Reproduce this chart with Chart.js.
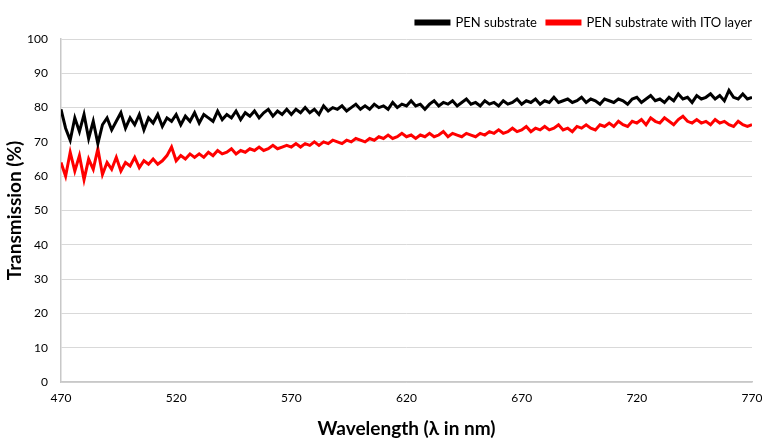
<!DOCTYPE html>
<html>
<head>
<meta charset="utf-8">
<script src="https://cdn.jsdelivr.net/npm/chart.js@4/dist/chart.umd.min.js"></script>
<style>
  html, body { margin: 0; padding: 0; background: #ffffff; }
  #wrap { width: 762px; height: 438px; }
</style>
</head>
<body>
<div id="wrap"><canvas id="c" width="762" height="438"></canvas></div>
<script>
// Wavelength start / step (nm) and tick labels
const wavelengthStart = 470;
const wavelengthStep = 2;
const xTicks = [470, 520, 570, 620, 670, 720, 770];
const yTicks = [0, 10, 20, 30, 40, 50, 60, 70, 80, 90, 100];

// Transmission (%), every 2 nm from 470 to 770 nm
const penSubstrate = [
  79.5, 74, 70.5, 77, 73, 78, 71, 76, 69.5, 75,
  77, 73.5, 76, 78.5, 74, 77, 75, 78, 73.5, 77,
  75.5, 78, 74.5, 77, 76, 78, 75, 77.5, 76, 78.5,
  75.5, 78, 77, 76, 79, 76.5, 78, 77, 79, 76.5,
  78.5, 77.5, 79, 77, 78.5, 79.5, 77.5, 79, 78, 79.5,
  78, 79.5, 78.5, 80, 78.5, 79.5, 78, 80.5, 79, 80,
  79.5, 80.5, 79, 80, 81, 79.5, 80.5, 79.5, 81, 80,
  80.5, 79.5, 81.5, 80, 81, 80.5, 82, 80.5, 81, 79.5,
  81, 82, 80.5, 81.5, 81, 82, 80.5, 81.5, 82.5, 81,
  81.5, 80.5, 82, 81, 81.5, 80.5, 82, 81, 81.5, 82.5,
  81, 82, 81.5, 82.5, 81, 82, 81.5, 83, 81.5, 82,
  82.5, 81.5, 82, 83, 81.5, 82.5, 82, 81, 82.5, 82,
  81.5, 82.5, 82, 81, 82.5, 83, 81.5, 82.5, 83.5, 82,
  82.5, 81.5, 83, 82, 84, 82.5, 83, 81.5, 83.5, 82.5,
  83, 84, 82.5, 83.5, 82, 85, 83, 82.5, 84, 82.5,
  83
];
const penWithITO = [
  64, 60, 67, 61.5, 66, 59, 65, 62, 68, 60.5,
  64, 62, 65.5, 61.5, 64, 63, 65.5, 62.5, 64.5, 63.5,
  65, 63.5, 64.5, 66, 68.5, 64.5, 66, 65, 66.5, 65.5,
  66.5, 65.5, 67, 66, 67.5, 66.5, 67, 68, 66.5, 67.5,
  67, 68, 67.5, 68.5, 67.5, 68, 69, 68, 68.5, 69,
  68.5, 69.5, 68.5, 69.5, 69, 70, 69, 70, 69.5, 70.5,
  70, 69.5, 70.5, 70, 71, 70.5, 70, 71, 70.5, 71.5,
  71, 72, 71, 71.5, 72.5, 71.5, 72, 71, 72, 71.5,
  72.5, 71.5, 72, 73, 71.5, 72.5, 72, 71.5, 72.5, 72,
  71.5, 72.5, 72, 73, 72.5, 73.5, 72.5, 73, 74, 73,
  73.5, 74.5, 73, 74, 73.5, 74.5, 73.5, 74, 75, 73.5,
  74, 73, 74.5, 74, 75, 74, 73.5, 75, 74.5, 75.5,
  74.5, 76, 75, 74.5, 76, 75.5, 76.5, 75, 77, 76,
  75.5, 77, 76, 75, 76.5, 77.5, 76, 75.5, 76.5, 75.5,
  76, 75, 76.5, 75.5, 76, 75, 74.5, 76, 75, 74.5,
  75
];
const seriesNames = ['PEN substrate', 'PEN substrate with ITO layer'];

const toPoints = arr => arr.map((v, i) => ({ x: wavelengthStart + i * wavelengthStep, y: v }));

const FONT = 'Lato, "Open Sans", sans-serif';

new Chart(document.getElementById('c'), {
  type: 'line',
  data: {
    datasets: [
      { label: seriesNames[0], data: toPoints(penSubstrate), borderColor: '#000000', backgroundColor: '#000000', borderWidth: 3, pointRadius: 0, tension: 0 },
      { label: seriesNames[1], data: toPoints(penWithITO), borderColor: '#ff0000', backgroundColor: '#ff0000', borderWidth: 3, pointRadius: 0, tension: 0 }
    ]
  },
  options: {
    responsive: false,
    animation: false,
    events: [],
    layout: { padding: { left: 0, right: 0, top: 6, bottom: 0 } },
    plugins: {
      tooltip: { enabled: false },
      legend: {
        position: 'top',
        align: 'end',
        labels: {
          boxWidth: 33,
          boxHeight: 3,
          padding: 10,
          color: '#000000',
          font: { family: FONT, size: 13 }
        }
      }
    },
    scales: {
      x: {
        type: 'linear',
        min: 470,
        max: 770,
        afterBuildTicks: s => { s.ticks = xTicks.map(v => ({ value: v })); },
        afterFit: s => { s.height = 56; s.paddingRight = 10; },
        grid: { display: false, drawTicks: false },
        border: { display: true, color: '#c8c8c8', width: 1.5 },
        ticks: { color: '#000000', padding: 9, maxRotation: 0, font: { family: FONT, size: 12 } },
        title: { display: true, text: 'Wavelength (λ in nm)', color: '#000000', padding: { top: 0, bottom: 0 }, font: { family: FONT, size: 19, weight: 'bold', lineHeight: 1.0 } }
      },
      y: {
        min: 0,
        max: 100,
        afterBuildTicks: s => { s.ticks = yTicks.map(v => ({ value: v })); },
        afterFit: s => { s.width = 61; },
        grid: { color: '#d9d9d9', lineWidth: 1, drawTicks: false },
        border: { display: true, color: '#c8c8c8', width: 1.5 },
        ticks: { color: '#000000', padding: 13, font: { family: FONT, size: 12 } },
        title: { display: true, text: 'Transmission (%)', color: '#000000', padding: { top: 5, bottom: 0 }, font: { family: FONT, size: 19, weight: 'bold', lineHeight: 1.0 } }
      }
    }
  }
});
</script>
</body>
</html>
